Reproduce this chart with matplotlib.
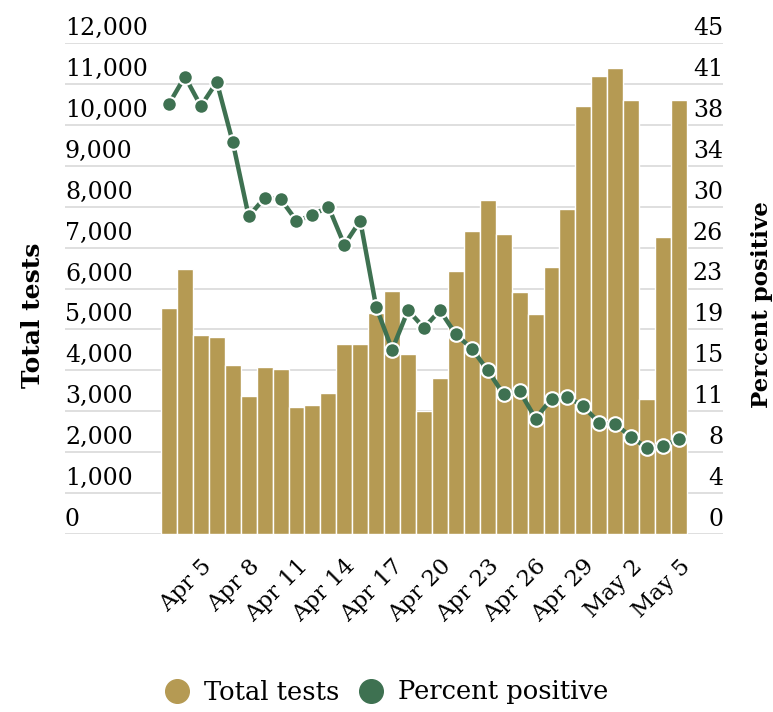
import matplotlib
matplotlib.use("Agg")
import matplotlib.pyplot as plt
import matplotlib.transforms as mtransforms
from matplotlib.lines import Line2D
import numpy as np

# ---- data ----
dates = ["Apr 3", "Apr 4", "Apr 5", "Apr 6", "Apr 7", "Apr 8", "Apr 9", "Apr 10", "Apr 11",
         "Apr 12", "Apr 13", "Apr 14", "Apr 15", "Apr 16", "Apr 17", "Apr 18", "Apr 19",
         "Apr 20", "Apr 21", "Apr 22", "Apr 23", "Apr 24", "Apr 25", "Apr 26", "Apr 27",
         "Apr 28", "Apr 29", "Apr 30", "May 1", "May 2", "May 3", "May 4", "May 5"]
total_tests = [5520, 6470, 4860, 4820, 4130, 3380, 4090, 4030, 3110, 3160, 3440, 4650, 4650,
               5390, 5950, 4390, 3010, 3810, 6430, 7410, 8160, 7320, 5910, 5370, 6530, 7940,
               10450, 11180, 11390, 10600, 3300, 7250, 10600]
percent_positive = [39.4, 41.9, 39.2, 41.4, 35.9, 29.1, 30.8, 30.7, 28.7, 29.2, 30.0, 26.5, 28.7,
                    20.8, 16.9, 20.5, 18.9, 20.5, 18.3, 17.0, 15.0, 12.8, 13.1, 10.6, 12.4, 12.6,
                    11.7, 10.2, 10.1, 8.9, 7.9, 8.1, 8.7]
left_ticks = [0, 1000, 2000, 3000, 4000, 5000, 6000, 7000, 8000, 9000, 10000, 11000, 12000]
left_labels = ["0", "1,000", "2,000", "3,000", "4,000", "5,000", "6,000", "7,000", "8,000",
               "9,000", "10,000", "11,000", "12,000"]
right_labels = ["0", "4", "8", "11", "15", "19", "23", "26", "30", "34", "38", "41", "45"]
xtick_labels = ["Apr 5", "Apr 8", "Apr 11", "Apr 14", "Apr 17", "Apr 20", "Apr 23", "Apr 26",
                "Apr 29", "May 2", "May 5"]

GOLD = "#b59a53"
GREEN = "#3e7151"
GRID = "#dcdcdc"

plt.rcParams['font.family'] = ['DejaVu Serif']

W, H = 773, 712
fig = plt.figure(figsize=(W / 100, H / 100), dpi=100)
ax_left, ax_right = 65 / W, 723 / W
ax_bottom, ax_top = 1 - 534.3 / H, 1 - 42.7 / H
ax = fig.add_axes([ax_left, ax_bottom, ax_right - ax_left, ax_top - ax_bottom])

x = np.arange(len(dates))
ax.bar(x, total_tests, width=1.0, color=GOLD, edgecolor="white", linewidth=1.0, zorder=2)
ax.set_xlim(-6.525, 34.76)
ax.set_ylim(0, 12000)
ax.set_yticks(left_ticks)
ax.yaxis.grid(True, color=GRID, linewidth=1.3, zorder=0)
ax.set_axisbelow(True)
ax.tick_params(axis='y', length=0, labelleft=False)
for s in ax.spines.values():
    s.set_visible(False)

# left tick labels above gridlines
trans_l = mtransforms.blended_transform_factory(ax.transAxes, ax.transData)
off = mtransforms.ScaledTranslation(0, 8 / 100, fig.dpi_scale_trans)
for v, lab in zip(left_ticks, left_labels):
    ax.text(0, v, lab, transform=trans_l + off, ha='left', va='baseline', fontsize=17)

# x ticks
xt_pos = [dates.index(d) for d in xtick_labels]
ax.set_xticks(xt_pos)
ax.set_xticklabels(xtick_labels, rotation=45, ha='right', va='top', rotation_mode='anchor',
                   fontsize=16.5)
ax.tick_params(axis='x', length=0, pad=15)

# right axis
ax2 = ax.twinx()
ax2.set_ylim(0, 45)
right_ticks = np.linspace(0, 45, len(right_labels))
ax2.set_yticks(right_ticks)
ax2.tick_params(axis='y', length=0, labelright=False)
for s in ax2.spines.values():
    s.set_visible(False)
trans_r = mtransforms.blended_transform_factory(ax2.transAxes, ax2.transData)
for v, lab in zip(right_ticks, right_labels):
    ax2.text(1, v, lab, transform=trans_r + off, ha='right', va='baseline', fontsize=17)

ax2.plot(x, percent_positive, color=GREEN, linewidth=3.2, marker='o', markersize=10.5,
         markerfacecolor=GREEN, markeredgecolor='white', markeredgewidth=1.5, zorder=3)

fig.text(33 / W, 1 - 315 / H, "Total tests", rotation=90, ha='center', va='center',
         fontsize=18, fontweight='bold')
fig.text(762 / W, 1 - 305 / H, "Percent positive", rotation=90, ha='center', va='center',
         fontsize=16.5, fontweight='bold')

handles = [Line2D([], [], linestyle='none', marker='o', markersize=17, color=GOLD),
           Line2D([], [], linestyle='none', marker='o', markersize=17, color=GREEN)]
fig.legend(handles, ["Total tests", "Percent positive"], loc='center',
           bbox_to_anchor=(0.5, 1 - 692 / H), ncol=2, frameon=False, fontsize=18.5,
           handletextpad=0.55, columnspacing=0.75, handlelength=1.0)

fig.savefig("out.png", dpi=100)
